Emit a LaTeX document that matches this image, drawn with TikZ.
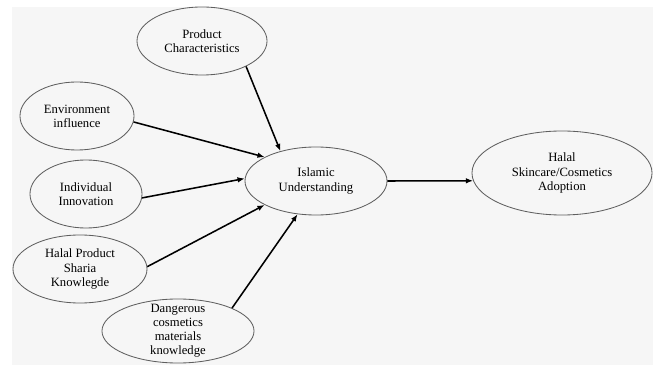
\documentclass[tikz,border=0pt]{standalone}
\usepackage{fontspec}
\setmainfont{Liberation Serif}
\usetikzlibrary{arrows.meta,shapes.geometric}
\definecolor{panelgray}{RGB}{246,246,246}
\definecolor{rimgray}{RGB}{95,95,95}

\begin{document}
\begin{tikzpicture}[
  x=0.025cm, y=-0.025cm,
  font=\fontsize{9}{10}\selectfont,
  factor/.style={ellipse, draw=rimgray, line width=0.6pt, align=center, inner sep=0pt},
  arrow/.style={-{Latex[length=1.8mm,width=1.4mm]}, line width=1.1pt}
]
\useasboundingbox (0,0) rectangle (661,365);
\fill[panelgray] (12,7) rectangle (653,365);
\node[factor, minimum width=3.25cm, minimum height=1.7cm] (product) at (202,41) {Product\\Characteristics};
\node[factor, minimum width=2.85cm, minimum height=1.7cm] (environment) at (77,116) {Environment\\influence};
\node[factor, minimum width=2.8cm, minimum height=1.7cm] (innovation) at (86,194) {Individual\\Innovation};
\node[factor, minimum width=3.35cm, minimum height=1.7cm] (sharia) at (80,269) {Halal Product\\Sharia\\Knowlegde};
\node[factor, minimum width=3.8cm, minimum height=1.6cm,
  label={[align=center]center:Dangerous\\cosmetics\\materials\\knowledge}] (danger) at (178,331) {};
\node[factor, minimum width=3.55cm, minimum height=1.7cm] (islamic) at (316,181) {Islamic\\Understanding};
\node[factor, minimum width=4.5cm, minimum height=2.1cm] (adoption) at (562,173) {Halal\\Skincare/Cosmetics\\Adoption};
\draw[arrow] (product.-30) -- (islamic.140);
\draw[arrow] (environment.-6) -- (islamic.155);
\draw[arrow] (innovation.-4) -- (islamic.178);
\draw[arrow] (sharia.2) -- (islamic.-155);
\draw[arrow] (danger.23) -- (islamic.-119);
\draw[arrow] (islamic.0) -- (adoption.185);
\end{tikzpicture}
\end{document}
